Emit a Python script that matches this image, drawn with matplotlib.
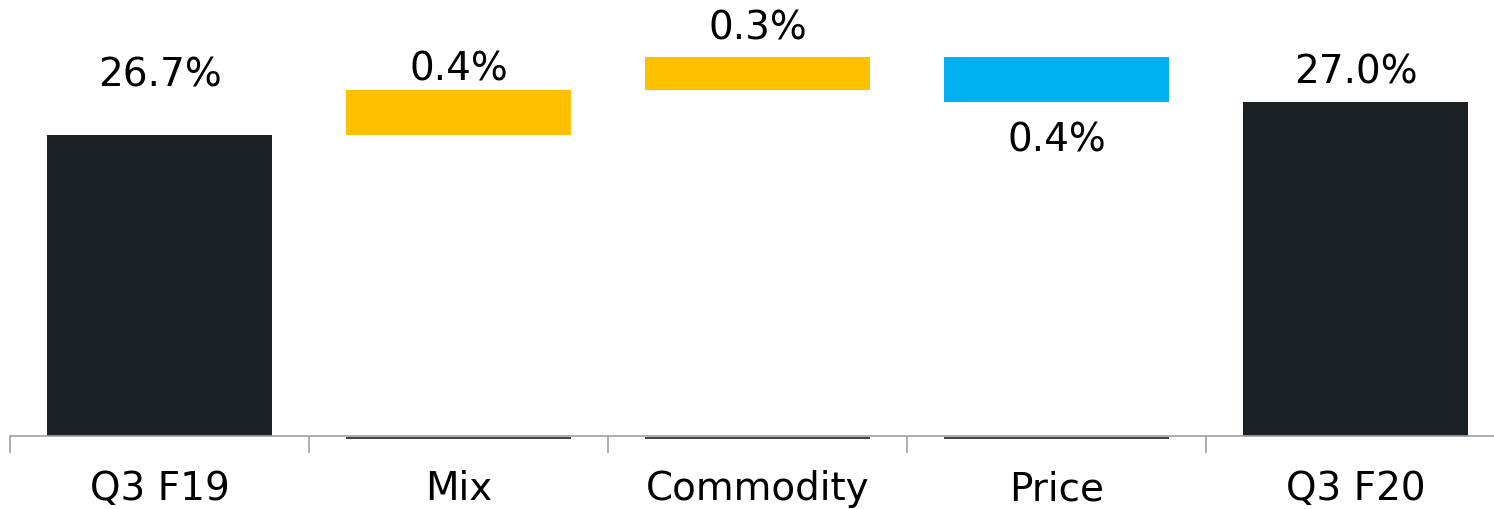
import numpy as np
import matplotlib
matplotlib.use("Agg")
import matplotlib.pyplot as plt
from matplotlib.transforms import offset_copy

plt.rcParams['font.family'] = ['DejaVu Sans']

categories = ['Q3 F19', 'Mix', 'Commodity', 'Price', 'Q3 F20']
changes = [26.7, 0.4, 0.3, -0.4, 27.0]
labels = ['26.7%', '0.4%', '0.3%', '0.4%', '27.0%']
kinds = ['total', 'up', 'up', 'down', 'total']

colours = {'total': '#1b2226', 'up': '#ffc000', 'down': '#00b0f0'}
axis_min = 24.0
axis_max = 27.92
# pixel gap between bar end and label
label_gap = [50, 11, 18, 19, 19]
fs = 28

fig = plt.figure(figsize=(14.94, 5.10), dpi=100)
ax = fig.add_axes([10 / 1494, 73 / 510, 1495 / 1494, 437 / 510])
base_tr = offset_copy(ax.transData, fig=fig, y=-2, units='dots')

x = np.arange(len(categories))
width = 0.75
running = 0.0
for i, (val, kind) in enumerate(zip(changes, kinds)):
    if kind == 'total':
        bottom, height = axis_min, val - axis_min
        running = val
        top_edge = val
    else:
        bottom = running if val > 0 else running + val
        height = abs(val)
        running += val
        top_edge = bottom + height
        # thin base line of the hidden stack
        ax.hlines(axis_min, i - width / 2, i + width / 2, color='#1b2226',
                  linewidth=1.2, zorder=4, clip_on=False, transform=base_tr)
    ax.bar(i, height, bottom=bottom, width=width, color=colours[kind], zorder=2)
    if kind == 'down':
        ax.annotate(labels[i], (i, bottom), xytext=(0, -label_gap[i] * 0.72),
                    textcoords='offset points', ha='center', va='top',
                    fontsize=fs, color='black')
    else:
        ax.annotate(labels[i], (i, top_edge), xytext=(0, label_gap[i] * 0.72),
                    textcoords='offset points', ha='center', va='baseline',
                    fontsize=fs, color='black')

ax.set_xlim(-0.5, len(categories) - 0.5)
ax.set_ylim(axis_min, axis_max)
ax.set_yticks([])
ax.set_xticks(x)
ax.set_xticklabels(categories, fontsize=fs)
ax.set_xticks(np.arange(len(categories) + 1) - 0.5, minor=True)
ax.tick_params(axis='x', which='major', length=0, pad=24)
ax.tick_params(axis='x', which='minor', length=12, color='#a0a0a0', width=1.2)
for side in ['top', 'right', 'left']:
    ax.spines[side].set_visible(False)
ax.spines['bottom'].set_color('#a0a0a0')
ax.spines['bottom'].set_linewidth(1.2)
ax.spines['bottom'].set_zorder(3)

fig.savefig('out.png', dpi=100)
